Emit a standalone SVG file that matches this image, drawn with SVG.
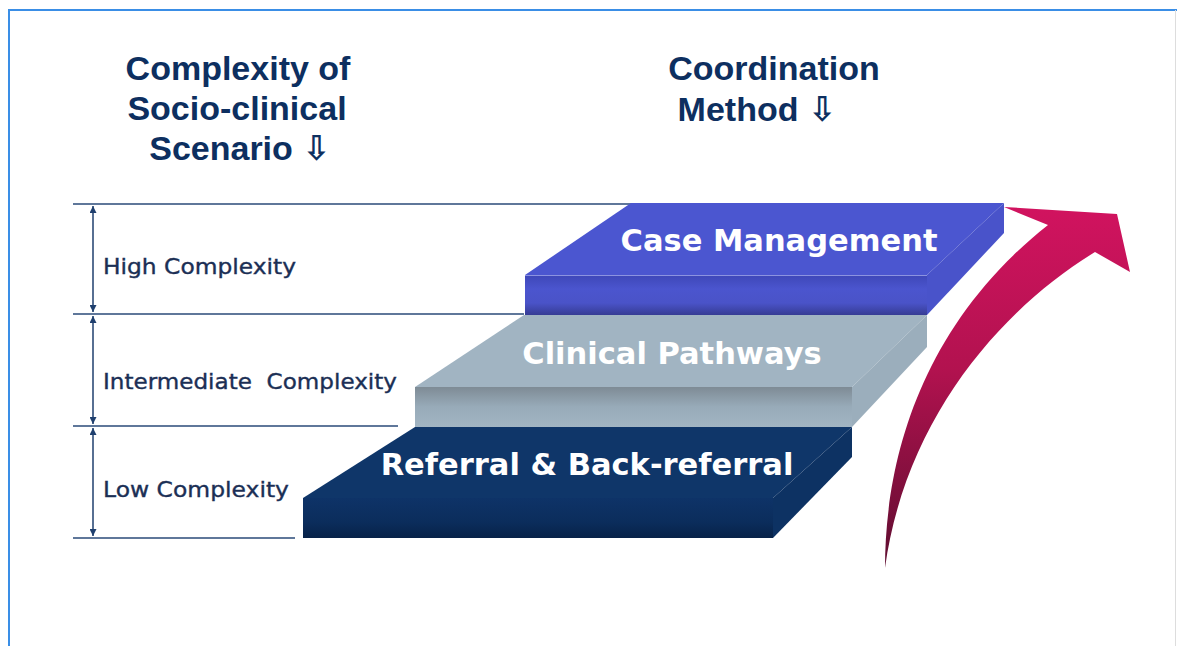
<svg xmlns="http://www.w3.org/2000/svg" width="1177" height="646" viewBox="0 0 1177 646">
<style>
.hdr{font-family:"Liberation Sans","DejaVu Sans",sans-serif;font-weight:bold;font-size:34px;fill:#0D2F60;text-anchor:middle}
.lvl{font-family:"DejaVu Sans",sans-serif;font-size:20.5px;fill:#1B2F55;stroke:#1B2F55;stroke-width:0.35}
.step{font-family:"DejaVu Sans",sans-serif;font-weight:bold;font-size:30.5px;fill:#FFFFFF}
.rule{stroke:#2A4A78;stroke-width:1.5;fill:none}
.dim{stroke:#1F3F6E;stroke-width:1.5;fill:none;marker-start:url(#ah);marker-end:url(#ah)}
</style>
<defs>
<marker id="ah" viewBox="0 0 10 10" refX="10" refY="5" markerWidth="7" markerHeight="7" orient="auto-start-reverse" markerUnits="userSpaceOnUse">
<path d="M0,0 L10,5 L0,10 Z" fill="#1F3F6E"/>
</marker>
<linearGradient id="cmFront" x1="0" y1="0" x2="0" y2="1">
<stop offset="0" stop-color="#3E47B8"/><stop offset="0.35" stop-color="#4B55CE"/><stop offset="0.7" stop-color="#4A53C8"/><stop offset="1" stop-color="#363C94"/>
</linearGradient>
<linearGradient id="cpFront" x1="0" y1="0" x2="0" y2="1">
<stop offset="0" stop-color="#7E8B95"/><stop offset="0.5" stop-color="#98ABB9"/><stop offset="1" stop-color="#A2B5C3"/>
</linearGradient>
<linearGradient id="rbFront" x1="0" y1="0" x2="0" y2="1">
<stop offset="0" stop-color="#0E3368"/><stop offset="0.6" stop-color="#0B2D5C"/><stop offset="1" stop-color="#072248"/>
</linearGradient>
<linearGradient id="pink" x1="0" y1="0" x2="0" y2="1">
<stop offset="0" stop-color="#D1135F"/><stop offset="0.45" stop-color="#B2124F"/><stop offset="1" stop-color="#5E0D30"/>
</linearGradient>
</defs>
<rect x="0" y="0" width="1177" height="646" fill="#FFFFFF"/>
<g id="frame">
<path d="M9,646 L9,10 L1177,10" fill="none" stroke="#3A8EE6" stroke-width="2"/>
<line x1="1175.5" y1="10" x2="1175.5" y2="646" stroke="#DDDDDD" stroke-width="1"/>
</g>
<g id="header-left">
<text class="hdr" x="238" y="80">Complexity of</text>
<text class="hdr" x="237" y="120">Socio-clinical</text>
<text class="hdr" x="240" y="160">Scenario ⇩</text>
</g>
<g id="header-right">
<text class="hdr" x="774" y="80">Coordination</text>
<text class="hdr" x="757" y="121">Method ⇩</text>
</g>
<g id="connectors">
<line class="rule" x1="73" y1="204" x2="632" y2="204"/>
<line class="rule" x1="73" y1="314" x2="524" y2="314"/>
<line class="rule" x1="73" y1="426" x2="398" y2="426"/>
<line class="rule" x1="73" y1="538" x2="295" y2="538"/>
<line class="dim" x1="93" y1="206" x2="93" y2="312"/>
<line class="dim" x1="93" y1="316" x2="93" y2="424"/>
<line class="dim" x1="93" y1="428" x2="93" y2="536"/>
</g>
<g id="level-high"><text class="lvl" x="103" y="274" textLength="193" lengthAdjust="spacingAndGlyphs">High Complexity</text></g>
<g id="level-intermediate"><text class="lvl" x="103" y="389" textLength="294" lengthAdjust="spacingAndGlyphs" xml:space="preserve">Intermediate  Complexity</text></g>
<g id="level-low"><text class="lvl" x="103" y="497" textLength="186" lengthAdjust="spacingAndGlyphs">Low Complexity</text></g>
<g id="step-referral">
<polygon points="415,427 852,427 773,498 303,498" fill="#0F3669"/>
<polygon points="852,427 852,457 773,538 773,498" fill="#0D3263"/>
<rect x="303" y="498" width="470" height="40" fill="url(#rbFront)"/>
<text class="step" x="587" y="475" text-anchor="middle">Referral &amp; Back-referral</text>
</g>
<g id="step-clinical">
<polygon points="524,315 927,315 852,387 415,387" fill="#A1B4C2"/>
<polygon points="927,315 927,347 852,427 852,387" fill="#9BAEBC"/>
<rect x="415" y="387" width="437" height="40" fill="url(#cpFront)"/>
<text class="step" x="672" y="364" text-anchor="middle">Clinical Pathways</text>
</g>
<g id="step-case">
<polygon points="631,203 1004,203 927,275 525,275" fill="#4B56D0"/>
<polygon points="1004,203 1004,233 927,315 927,275" fill="#4953CA"/>
<rect x="525" y="275" width="402" height="40" fill="url(#cmFront)"/>
<line x1="525" y1="275.5" x2="927" y2="275.5" stroke="#8C93E0" stroke-width="1"/>
<text class="step" x="779" y="251" text-anchor="middle">Case Management</text>
</g>
<g id="rising-arrow">
<path d="M885,568 C885,470 915,330 1048,225 L1004,207 L1117,214 L1130,272 L1095,252 C1000,310 905,420 885,568 Z" fill="url(#pink)"/>
</g>
</svg>
